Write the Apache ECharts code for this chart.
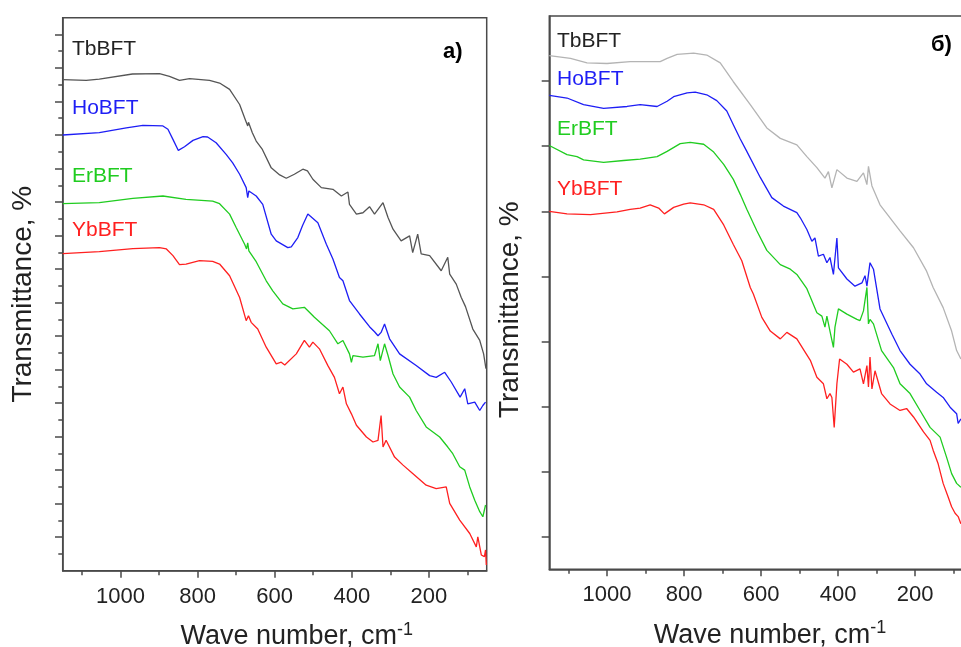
<!DOCTYPE html>
<html>
<head>
<meta charset="utf-8">
<script src="https://cdn.jsdelivr.net/npm/echarts@6/dist/echarts.min.js"></script>
<style>
html,body{margin:0;padding:0;background:#fff;}
#chart{width:961px;height:647px;}
</style>
</head>
<body>
<div id="chart"></div>
<script>
// ---- axis ticks / labels ----
const xTickLabels = [200, 400, 600, 800, 1000];
const xMinorTicks = [100, 300, 500, 700, 900, 1100];
const leftYMajorTicks = [1, 2, 3, 4, 5, 6, 7, 8, 9, 10, 11, 12, 13, 14, 15, 16];
const leftYMinorTicks = [0.5, 1.5, 2.5, 3.5, 4.5, 5.5, 6.5, 7.5, 8.5, 9.5, 10.5, 11.5, 12.5, 13.5, 14.5, 15.5];
const rightYTicks = [0.5, 1.5, 2.5, 3.5, 4.5, 5.5, 6.5, 7.5];
const seriesNames = ['TbBFT', 'HoBFT', 'ErBFT', 'YbBFT'];

// ---- panel a) : [wave number, transmittance (offset, a.u.)] ----
const leftTb = [[1150,14.65],[1089,14.63],[1055,14.67],[969,14.82],[899,14.83],[873,14.75],[847,14.63],[821,14.68],[769,14.63],[743,14.55],[717,14.36],[691,13.91],[676,13.45],[670,13.27],[668,13.38],[658,13.07],[648,12.82],[632,12.57],[609,12.02],[587,11.81],[570,11.71],[549,11.83],[527,11.98],[515,11.93],[501,11.68],[479,11.43],[449,11.38],[427,11.18],[410,11.30],[406,10.93],[388,10.64],[371,10.68],[354,10.86],[341,10.64],[319,10.98],[306,10.54],[293,10.19],[272,9.84],[250,9.99],[242,9.49],[229,10.04],[220,9.45],[198,9.40],[168,8.95],[151,9.35],[146,8.85],[129,8.55],[116,8.15],[105,7.88],[86,7.21],[68,6.87],[58,6.47],[52,6.03]];
const leftHo = [[1150,13.00],[1055,13.07],[985,13.21],[942,13.29],[890,13.27],[877,13.17],[864,12.87],[850,12.54],[834,12.65],[812,12.84],[786,12.95],[774,12.94],[752,12.77],[726,12.42],[709,12.17],[691,11.83],[674,11.43],[670,11.13],[667,11.33],[648,11.18],[631,10.93],[609,10.04],[596,9.84],[566,9.64],[557,9.66],[540,9.94],[528,10.29],[514,10.64],[488,10.38],[466,9.74],[449,9.30],[432,8.75],[423,8.65],[406,8.06],[380,7.66],[354,7.28],[341,7.13],[332,7.01],[324,7.11],[315,7.36],[302,6.92],[276,6.47],[233,6.12],[198,5.82],[181,5.77],[159,5.92],[142,5.63],[119,5.18],[107,5.43],[99,4.98],[81,5.03],[68,4.78],[60,4.93],[53,5.03]];
const leftEr = [[1150,10.95],[1055,10.98],[968,11.11],[890,11.18],[830,11.08],[761,11.03],[743,10.95],[717,10.64],[700,10.24],[678,9.74],[673,9.60],[670,9.78],[667,9.54],[648,9.22],[622,8.65],[605,8.35],[579,7.96],[553,7.81],[523,7.86],[497,7.56],[458,7.16],[436,6.77],[423,6.87],[406,6.47],[401,6.22],[397,6.42],[371,6.37],[341,6.42],[332,6.77],[326,6.27],[315,6.77],[306,6.42],[293,5.87],[276,5.48],[250,5.18],[233,4.78],[207,4.29],[172,3.99],[151,3.69],[138,3.49],[120,3.10],[107,3.00],[94,2.50],[81,2.10],[68,1.76],[60,1.61],[53,1.96]];
const leftYb = [[1150,9.46],[1055,9.52],[968,9.61],[899,9.64],[881,9.60],[864,9.40],[847,9.13],[830,9.15],[795,9.25],[761,9.23],[743,9.15],[717,8.80],[691,8.15],[674,7.46],[668,7.61],[661,7.41],[644,7.21],[622,6.67],[596,6.17],[583,6.22],[574,6.14],[544,6.47],[523,6.87],[510,6.67],[501,6.82],[484,6.62],[462,6.12],[445,5.77],[432,5.28],[423,5.48],[414,4.98],[401,4.68],[388,4.34],[362,3.99],[345,3.84],[332,3.89],[324,4.63],[319,3.69],[311,3.89],[289,3.39],[267,3.15],[242,2.90],[207,2.55],[181,2.45],[155,2.50],[146,2.01],[120,1.51],[94,1.11],[77,0.71],[73,1.01],[64,0.47],[56,0.42],[53,0.62],[51,0.17]];

// ---- panel б) ----
const rightTb = [[1150,7.89],[1095,7.85],[1052,7.78],[1000,7.77],[940,7.80],[862,7.80],[844,7.85],[818,7.91],[775,7.93],[741,7.90],[706,7.78],[672,7.49],[628,7.14],[585,6.78],[550,6.62],[507,6.52],[481,6.34],[455,6.17],[434,6.01],[425,6.11],[416,5.86],[403,6.14],[377,6.01],[351,5.96],[334,6.09],[325,5.91],[321,6.19],[312,5.89],[291,5.60],[239,5.20],[204,4.94],[170,4.58],[153,4.33],[127,4.02],[105,3.66],[92,3.36],[81,3.23]];
const rightHo = [[1150,7.28],[1104,7.24],[1061,7.14],[1009,7.08],[948,7.11],[914,7.14],[870,7.11],[844,7.19],[827,7.26],[792,7.32],[771,7.33],[741,7.29],[715,7.20],[689,7.04],[672,6.83],[654,6.61],[637,6.42],[602,6.02],[572,5.71],[542,5.58],[507,5.48],[498,5.40],[481,5.22],[468,5.04],[460,5.09],[451,4.81],[438,4.84],[429,4.71],[421,4.79],[412,4.53],[403,5.09],[399,4.63],[377,4.46],[356,4.35],[338,4.40],[330,4.51],[325,4.35],[317,4.71],[308,4.61],[291,4.00],[260,3.61],[239,3.36],[213,3.15],[187,3.00],[170,2.85],[144,2.72],[127,2.64],[109,2.49],[92,2.39],[88,2.24],[81,2.31]];
const rightEr = [[1150,6.51],[1104,6.37],[1078,6.34],[1061,6.29],[1009,6.25],[957,6.28],[914,6.30],[870,6.34],[844,6.42],[810,6.54],[784,6.56],[749,6.53],[723,6.41],[697,6.22],[672,5.99],[654,5.76],[637,5.53],[611,5.20],[585,4.90],[550,4.68],[524,4.61],[507,4.53],[481,4.31],[455,3.94],[442,3.89],[434,3.72],[429,3.89],[421,3.66],[412,3.41],[408,3.72],[399,4.00],[377,3.92],[351,3.84],[343,3.82],[334,3.97],[325,4.33],[321,3.77],[317,3.84],[308,3.77],[287,3.36],[256,3.10],[239,2.85],[213,2.70],[187,2.44],[161,2.18],[135,2.03],[118,1.72],[105,1.47],[92,1.32],[81,1.26]];
const rightYb = [[1150,5.50],[1104,5.46],[1043,5.45],[974,5.49],[940,5.53],[914,5.55],[888,5.60],[866,5.55],[851,5.46],[827,5.56],[801,5.61],[784,5.63],[749,5.60],[723,5.53],[697,5.29],[672,4.99],[650,4.74],[628,4.33],[620,4.23],[598,3.87],[576,3.66],[550,3.54],[533,3.64],[507,3.54],[490,3.38],[472,3.21],[455,2.95],[438,2.85],[429,2.62],[421,2.70],[416,2.64],[410,2.18],[403,2.85],[396,3.23],[377,3.15],[360,3.03],[343,3.08],[334,2.85],[325,3.13],[321,2.80],[317,3.26],[312,2.77],[304,3.05],[287,2.70],[265,2.54],[239,2.44],[222,2.47],[204,2.34],[178,2.11],[161,1.98],[153,1.83],[140,1.62],[127,1.32],[114,1.11],[105,0.96],[96,0.86],[88,0.81],[81,0.70]];

const FONT = 'Liberation Sans, Arial, sans-serif';
const AX = '#4a4a4a';
const TXT = '#222222';

function xMain(gridIndex, padLeft) {
  return {
    type: 'value', gridIndex: gridIndex, position: 'bottom', min: 50, max: 1150, inverse: true,
    axisLine: { show: true, lineStyle: { color: AX, width: 1.5 } },
    axisTick: { show: true, customValues: xTickLabels, length: 7, lineStyle: { color: AX, width: 1.5 } },
    axisLabel: { customValues: xTickLabels, margin: 15, fontSize: 22, color: TXT, fontFamily: FONT, formatter: v => String(v) },
    splitLine: { show: false },
    name: 'Wave number, cm{sup|-1}', nameLocation: 'middle', nameGap: 50,
    nameTextStyle: { fontSize: 27, color: TXT, fontFamily: FONT, padding: [0, 0, 0, padLeft],
      rich: { sup: { fontSize: 18, color: TXT, fontFamily: FONT, padding: [0, 0, 14, 0] } } }
  };
}
function xMinor(gridIndex) {
  return {
    type: 'value', gridIndex: gridIndex, position: 'bottom', offset: 0, min: 50, max: 1150, inverse: true,
    axisLine: { show: false },
    axisTick: { show: true, customValues: xMinorTicks, length: 4.5, lineStyle: { color: AX, width: 1.5 } },
    axisLabel: { show: false }, splitLine: { show: false }
  };
}

const colors = {
  leftTb: '#555555', rightTb: '#b4b4b4', Ho: '#1e1ef5', Er: '#20cc20', Yb: '#ff2020'
};
function line(name, data, color, xi, yi) {
  return { name: name, type: 'line', data: data, xAxisIndex: xi, yAxisIndex: yi,
    showSymbol: false, symbol: 'none', smooth: false,
    lineStyle: { color: color, width: 1.3 }, itemStyle: { color: color }, z: 3 };
}

function label(text, x, y, color, bold) {
  return { type: 'text', x: x, y: y, z: 10,
    style: { text: text, fill: color, font: (bold ? 'bold 22px ' : '21px ') + FONT, verticalAlign: 'middle' } };
}

const option = {
  animation: false,
  backgroundColor: '#ffffff',
  grid: [
    { left: 62.7, top: 17.7, width: 424, height: 553, containLabel: false, outerBoundsMode: 'none',
      show: true, borderColor: AX, borderWidth: 1.5 },
    { left: 549.3, top: 16, width: 423.5, height: 553.3, containLabel: false, outerBoundsMode: 'none',
      show: true, borderColor: AX, borderWidth: 1.5 }
  ],
  xAxis: [ xMain(0, 44), xMinor(0), xMain(1, 18), xMinor(1) ],
  yAxis: [
    { type: 'value', gridIndex: 0, position: 'left', min: 0, max: 16.5,
      axisLine: { show: true, lineStyle: { color: AX, width: 1.5 } },
      axisTick: { show: true, customValues: leftYMajorTicks, length: 7.7, lineStyle: { color: AX, width: 1.5 } },
      axisLabel: { show: false }, splitLine: { show: false },
      name: 'Transmittance, %', nameLocation: 'middle', nameGap: 25,
      nameTextStyle: { fontSize: 28, color: TXT, fontFamily: FONT } },
    { type: 'value', gridIndex: 0, position: 'left', offset: 0, min: 0, max: 16.5,
      axisLine: { show: false },
      axisTick: { show: true, customValues: leftYMinorTicks, length: 4.4, lineStyle: { color: AX, width: 1.5 } },
      axisLabel: { show: false }, splitLine: { show: false } },
    { type: 'value', gridIndex: 1, position: 'left', min: 0, max: 8.5,
      axisLine: { show: true, lineStyle: { color: AX, width: 1.5 } },
      axisTick: { show: true, customValues: rightYTicks, length: 7.6, lineStyle: { color: AX, width: 1.5 } },
      axisLabel: { show: false }, splitLine: { show: false },
      name: 'Transmittance, %', nameLocation: 'middle', nameGap: 25,
      nameTextStyle: { fontSize: 28, color: TXT, fontFamily: FONT, padding: [0, 34, 0, 0] } }
  ],
  series: [
    line(seriesNames[0], leftTb, colors.leftTb, 0, 0),
    line(seriesNames[1], leftHo, colors.Ho, 0, 0),
    line(seriesNames[2], leftEr, colors.Er, 0, 0),
    line(seriesNames[3], leftYb, colors.Yb, 0, 0),
    line(seriesNames[0], rightTb, colors.rightTb, 2, 2),
    line(seriesNames[1], rightHo, colors.Ho, 2, 2),
    line(seriesNames[2], rightEr, colors.Er, 2, 2),
    line(seriesNames[3], rightYb, colors.Yb, 2, 2)
  ],
  graphic: [
    label(seriesNames[0], 72, 49, TXT, false),
    label(seriesNames[1], 72, 108, '#1e1ef5', false),
    label(seriesNames[2], 72, 176.5, '#20cc20', false),
    label(seriesNames[3], 72, 230.5, '#ff2020', false),
    label('a)', 443, 52, '#000000', true),
    label(seriesNames[0], 557, 41, TXT, false),
    label(seriesNames[1], 557, 79.5, '#1e1ef5', false),
    label(seriesNames[2], 557, 129, '#20cc20', false),
    label(seriesNames[3], 557, 189, '#ff2020', false),
    label('б)', 931, 45, '#000000', true)
  ]
};

const chart = echarts.init(document.getElementById('chart'), null, { renderer: 'canvas' });
chart.setOption(option);
</script>
</body>
</html>
